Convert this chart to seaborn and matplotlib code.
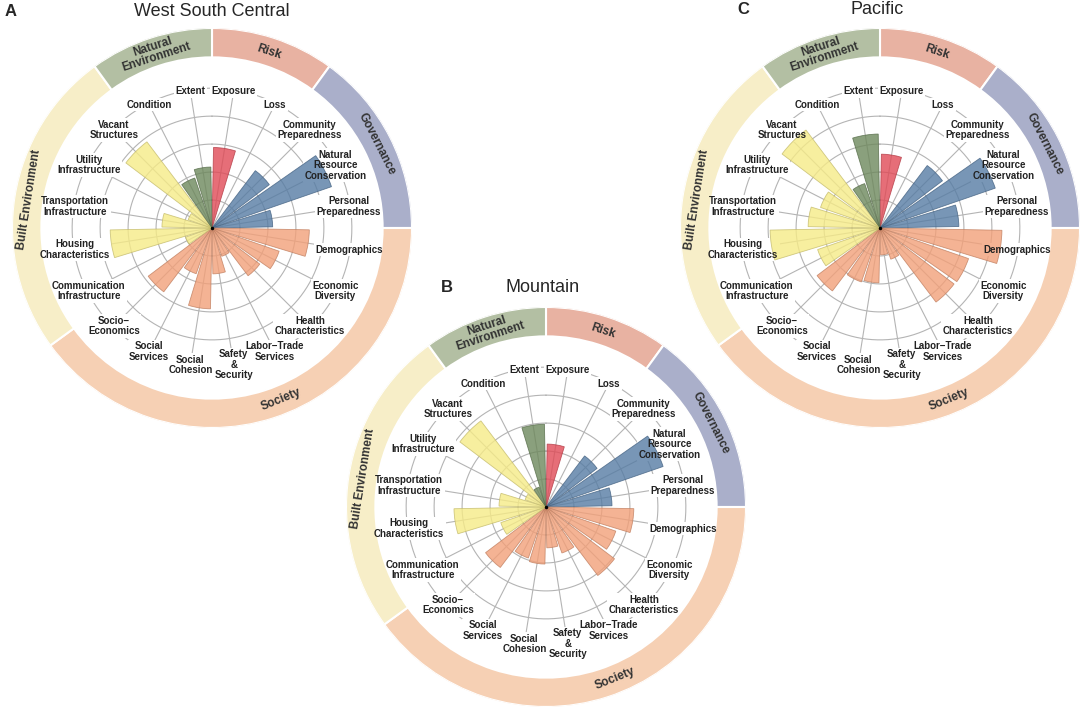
import numpy as np
import pandas as pd
import matplotlib
matplotlib.use("Agg")
import matplotlib.pyplot as plt
import matplotlib.colors as mcolors
import seaborn as sns

# ---------------- data ----------------
indicators = ["Exposure", "Loss", "Community\nPreparedness",
              "Natural\nResource\nConservation", "Personal\nPreparedness",
              "Demographics", "Economic\nDiversity", "Health\nCharacteristics",
              "Labor\u2212Trade\nServices", "Safety\n&\nSecurity", "Social\nCohesion",
              "Social\nServices", "Socio\u2212\nEconomics",
              "Communication\nInfrastructure", "Housing\nCharacteristics",
              "Transportation\nInfrastructure", "Utility\nInfrastructure",
              "Vacant\nStructures", "Condition", "Extent"]
domains = ["Risk", "Governance", "Society", "Built Environment", "Natural Environment"]
domain_labels = ["Risk", "Governance", "Society", "Built Environment", "Natural\nEnvironment"]
domain_sizes = [2, 3, 8, 5, 2]

west_south_central = [2.88, 0.0, 2.57, 4.52, 2.17, 3.48, 2.54, 2.14, 1.07, 1.64,
                      2.89, 1.73, 2.86, 1.00, 3.64, 1.79, 0.90, 3.86, 1.89, 2.18]
mountain = [2.25, 0.0, 2.29, 4.43, 2.36, 3.14, 2.64, 3.07, 1.74, 1.46,
            2.04, 1.93, 2.71, 1.71, 3.29, 1.68, 0.79, 3.86, 0.75, 2.96]
pacific = [2.64, 0.0, 2.80, 4.36, 2.82, 4.36, 3.35, 3.32, 1.18, 0.96,
           1.96, 2.04, 2.82, 2.36, 3.93, 2.57, 2.25, 4.39, 1.68, 3.36]

panels = [("A", "West South Central", west_south_central),
          ("B", "Mountain", mountain),
          ("C", "Pacific", pacific)]

# ---------------- styles ----------------
bar_colors = {"Risk": "#e04a56", "Governance": "#567ca4", "Society": "#f2a079",
              "Built Environment": "#f6eb87", "Natural Environment": "#6d885c"}
ring_colors = {"Risk": "#e8b2a2", "Governance": "#aaafca", "Society": "#f6d0b4",
               "Built Environment": "#f7eec8", "Natural Environment": "#b3bfa3"}
ring_text_angle = {"Risk": 18, "Governance": 63, "Society": 158,
                   "Built Environment": 279, "Natural Environment": 342}

sns.set_style("white")
plt.rcParams["font.family"] = ["Liberation Sans", "DejaVu Sans"]

W, H = 1084, 713
fig = plt.figure(figsize=(W / 100, H / 100), dpi=100)

centers = [(212, 228), (546, 507), (880, 228)]
R_PX = 200
RMAX = 7.15
grid_col = "#b4b4b4"

groups = []
for d, n in zip(domains, domain_sizes):
    groups += [d] * n
n_ind = len(indicators)
step = 360.0 / n_ind
theta_deg = np.array([step / 2 + step * i for i in range(n_ind)])
theta = np.deg2rad(theta_deg)

title_pos = [((11, 11), (212, 11)), ((447, 287), (543, 287)), ((743, 10), (877, 10))]

for (letter, title, vals), (cx, cy), (lpos, tpos) in zip(panels, centers, title_pos):
    ax = fig.add_axes([(cx - R_PX) / W, (H - cy - R_PX) / H, 2 * R_PX / W, 2 * R_PX / H],
                      projection="polar")
    ax.set_theta_zero_location("N")
    ax.set_theta_direction(-1)

    # grid circles and spokes
    tt = np.linspace(0, 2 * np.pi, 400)
    for k in range(1, 6):
        ax.plot(tt, np.full_like(tt, k), color=grid_col, lw=0.8, zorder=1)
    for t in theta:
        ax.plot([t, t], [0, 4.95], color=grid_col, lw=0.8, zorder=1)

    # white boxes under labels (hide grid lines)
    for t, lab in zip(theta, indicators):
        ax.text(t, 4.95, lab, ha="center", va="center", fontsize=7, fontweight="bold",
                color="none", linespacing=1.05, zorder=1.5,
                bbox=dict(boxstyle="square,pad=0.15", fc="white", ec="none"))

    df = pd.DataFrame({"theta": theta, "value": vals, "domain": groups})
    sns.barplot(data=df, x="theta", y="value", hue="domain", palette=bar_colors,
                hue_order=domains, native_scale=True, width=0.88, dodge=False,
                saturation=1, alpha=0.8, errorbar=None, legend=False, ax=ax,
                linewidth=0.6, zorder=2, orient="x")
    for p in ax.patches:
        fc = np.array(mcolors.to_rgb(p.get_facecolor()[:3]))
        p.set_edgecolor(tuple(fc * 0.8))

    # labels
    for t, lab in zip(theta, indicators):
        ax.text(t, 4.95, lab, ha="center", va="center", fontsize=7, fontweight="bold",
                color="#222222", linespacing=1.05, zorder=5)

    # outer ring
    start = 0.0
    for d, dl, n in zip(domains, domain_labels, domain_sizes):
        span = step * n
        ax.bar(np.deg2rad(start), RMAX - 6.1, width=np.deg2rad(span), bottom=6.1,
               align="edge", color=ring_colors[d], edgecolor="white", linewidth=1.5,
               zorder=3)
        a = ring_text_angle[d]
        rot = 180 - a if 90 < a < 270 else -a
        ax.text(np.deg2rad(a), 6.62, dl, rotation=rot, rotation_mode="anchor",
                ha="center", va="center", fontsize=8.5, fontweight="bold",
                color="#333333", linespacing=0.95, zorder=4)
        start += span

    ax.plot([0], [0], "o", color="black", ms=1.5, zorder=6)

    ax.set_xlim(0, 2 * np.pi)
    ax.set_ylim(0, RMAX)
    ax.set_xticks([])
    ax.set_yticks([])
    ax.set_xlabel("")
    ax.set_ylabel("")
    ax.grid(False)
    ax.spines["polar"].set_visible(False)
    ax.set_facecolor("none")

    fig.text(lpos[0] / W, 1 - lpos[1] / H, letter, fontsize=12, fontweight="bold",
             ha="center", va="center")
    fig.text(tpos[0] / W, 1 - tpos[1] / H, title, fontsize=13, ha="center", va="center")

fig.savefig("out.png", dpi=100, facecolor="white")
